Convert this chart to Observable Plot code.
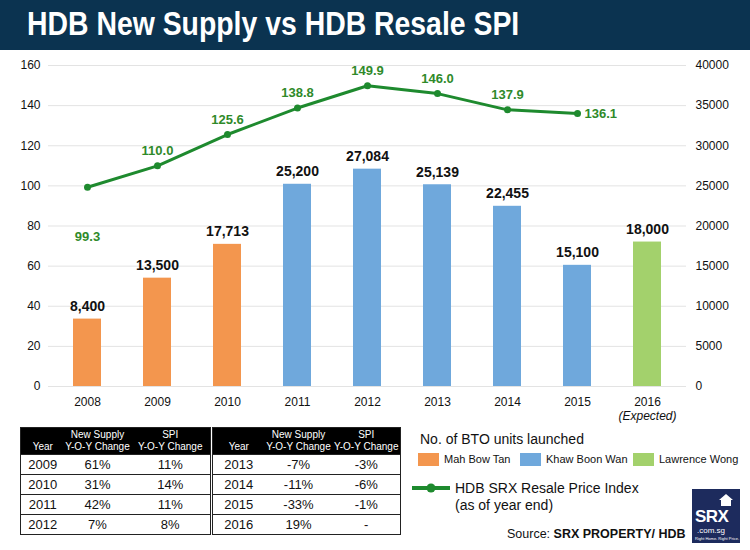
<!DOCTYPE html>
<html>
<head>
<meta charset="utf-8">
<script src="https://cdn.jsdelivr.net/npm/d3@7"></script>
<script src="https://cdn.jsdelivr.net/npm/@observablehq/plot@0.6"></script>
<style>
  html, body { margin: 0; padding: 0; background: #fff; }
  body { width: 750px; height: 550px; position: relative; overflow: hidden; font-family: "Liberation Sans", Arial, sans-serif; }
  #title { position: absolute; left: 0; top: 0; width: 750px; height: 50px; background: #0b3350; }
  #title span { position: absolute; left: 27px; top: 4px; color: #fff; font-family: "Liberation Sans", Arial, sans-serif; font-weight: bold; font-size: 34px; transform: scaleX(0.835); transform-origin: 0 0; white-space: nowrap; }
  #chart { position: absolute; left: 0; top: 50px; }
  table.t { position: absolute; border-collapse: collapse; table-layout: fixed; font-size: 13px; color: #111; border: 1px solid #222; }
  table.t th { background: #000; color: #fff; font-weight: normal; font-size: 10px; line-height: 12px; padding: 1px 0 1px 0; vertical-align: bottom; text-align: center; height: 24px; white-space: nowrap; overflow: visible; }
  table.t td { text-align: center; height: 19px; padding: 0; border-top: 1px solid #222; }
  #legend { position: absolute; left: 418px; top: 431px; font-size: 11px; color: #111; }
  .sw { position: absolute; width: 21px; height: 13px; }
  .lt { position: absolute; white-space: nowrap; }
  #logo { position: absolute; left: 692px; top: 489px; width: 48px; height: 54px; background: #1d2b5d; }
</style>
</head>
<body>
<div id="title"><span>HDB New Supply vs HDB Resale SPI</span></div>
<div id="chart"></div>
<div id="tables"></div>
<div id="legend"></div>
<div id="src" style="position:absolute;left:507px;top:527px;font-size:12.5px;color:#111;white-space:nowrap;">Source: <b>SRX PROPERTY/ HDB</b></div>
<div id="logo">
  <svg width="48" height="54" style="position:absolute;left:0;top:0" font-family="'Liberation Sans', Arial, sans-serif" fill="#fff">
    <polygon points="34,5 41,11 39,11 39,17 29,17 29,11 27,11" fill="#fff"/>
    <text x="3" y="33" font-size="17" font-weight="bold" letter-spacing="-0.5">SRX</text>
    <text x="5" y="44" font-size="8">.com.sg</text>
    <text x="3" y="51" font-size="4">Right Home. Right Price.</text>
  </svg>
</div>
<script>
// ---- data ----
const years = ["2008", "2009", "2010", "2011", "2012", "2013", "2014", "2015", "2016"];
const btoUnits = [8400, 13500, 17713, 25200, 27084, 25139, 22455, 15100, 18000];
const ministerOf = ["Mah Bow Tan", "Mah Bow Tan", "Mah Bow Tan", "Khaw Boon Wan", "Khaw Boon Wan", "Khaw Boon Wan", "Khaw Boon Wan", "Khaw Boon Wan", "Lawrence Wong"];
const ministers = ["Mah Bow Tan", "Khaw Boon Wan", "Lawrence Wong"];
const spiYears = ["2008", "2009", "2010", "2011", "2012", "2013", "2014", "2015"];
const spiValues = [99.3, 110.0, 125.6, 138.8, 149.9, 146.0, 137.9, 136.1];
const leftTicks = [0, 20, 40, 60, 80, 100, 120, 140, 160];
const rightTicks = [0, 5000, 10000, 15000, 20000, 25000, 30000, 35000, 40000];
const xNote = "(Expected)";
const xNoteYear = "2016";

const tableAYears = ["2009", "2010", "2011", "2012"];
const tableASupply = ["61%", "31%", "42%", "7%"];
const tableASpi = ["11%", "14%", "11%", "8%"];
const tableBYears = ["2013", "2014", "2015", "2016"];
const tableBSupply = ["-7%", "-11%", "-33%", "19%"];
const tableBSpi = ["-3%", "-6%", "-1%", "-"];
const headers = ["Year", "New Supply<br>Y-O-Y Change", "SPI<br>Y-O-Y Change"];

const legendTitle = "No. of BTO units launched";
const lineLegend = ["HDB SRX Resale Price Index", "(as of year end)"];

// ---- styles ----
const barColors = ["#f3964e", "#6fa8dc", "#a3d16c"];
const lineColor = "#1e8a2e";
const labelGreen = "#2f8a2a";
const ratio = 40000 / 160; // right axis units per left axis SPI point

const bars = years.map((y, i) => ({year: y, units: btoUnits[i], minister: ministerOf[i]}));
const spi = spiYears.map((y, i) => ({year: y, spi: spiValues[i]}));
const spiMid = spi.slice(1, -1);
const spiFirst = spi.slice(0, 1);
const spiLast = spi.slice(-1);

const chart = Plot.plot({
  width: 750,
  height: 376,
  marginTop: 15,
  marginBottom: 40,
  marginLeft: 48,
  marginRight: 64,
  style: {fontFamily: "'Liberation Sans', Arial, sans-serif", fontSize: "12px", color: "#111", background: "transparent"},
  x: {domain: years, paddingInner: 0.6, paddingOuter: 0.3, label: null},
  y: {domain: [0, 40000], label: null},
  color: {domain: ministers, range: barColors},
  marks: [
    Plot.gridY(rightTicks, {stroke: "#e3e3e3", strokeOpacity: 1}),
    Plot.axisY(rightTicks, {anchor: "left", tickSize: 0, tickPadding: 8, tickFormat: (d, i) => String(leftTicks[i]), label: null}),
    Plot.axisY(rightTicks, {anchor: "right", tickSize: 0, tickPadding: 9, tickFormat: d => String(d), label: null}),
    Plot.axisX({tickSize: 0, tickPadding: 9, lineHeight: 1.2, tickFormat: d => d === xNoteYear ? d + "\n" + xNote : d, label: null}),
    Plot.barY(bars, {x: "year", y: "units", fill: "minister"}),
    Plot.text(bars, {x: "year", y: "units", text: d => d3.format(",")(d.units), lineAnchor: "bottom", dy: -8, fontWeight: "bold", fontSize: 14, fill: "#111"}),
    Plot.line(spi, {x: "year", y: d => d.spi * ratio, stroke: lineColor, strokeWidth: 3}),
    Plot.dot(spi, {x: "year", y: d => d.spi * ratio, r: 3.5, fill: lineColor}),
    Plot.text(spiMid, {x: "year", y: d => d.spi * ratio, text: d => d.spi.toFixed(1), dy: -15, fontWeight: "bold", fontSize: 13, fill: labelGreen}),
    Plot.text(spiFirst, {x: "year", y: d => d.spi * ratio, text: d => d.spi.toFixed(1), dy: 50, fontWeight: "bold", fontSize: 13, fill: labelGreen}),
    Plot.text(spiLast, {x: "year", y: d => d.spi * ratio, text: d => d.spi.toFixed(1), dx: 7, textAnchor: "start", fontWeight: "bold", fontSize: 13, fill: labelGreen})
  ]
});
// italicise the "(Expected)" line of the 2016 tick label
d3.select(chart).selectAll("tspan").filter(function() { return this.textContent === xNote; }).attr("font-style", "italic");
document.getElementById("chart").appendChild(chart);

// ---- tables ----
function makeTable(left, widths, ys, sup, sp) {
  const t = document.createElement("table");
  t.className = "t";
  t.style.left = left + "px";
  t.style.top = "427px";
  t.style.width = widths.reduce((a, b) => a + b, 0) + "px";
  let html = "<colgroup>" + widths.map(w => `<col style="width:${w}px">`).join("") + "</colgroup>";
  html += "<tr>" + headers.map(h => `<th>${h}</th>`).join("") + "</tr>";
  ys.forEach((y, i) => { html += `<tr><td>${y}</td><td>${sup[i]}</td><td>${sp[i]}</td></tr>`; });
  t.innerHTML = html;
  document.getElementById("tables").appendChild(t);
}
makeTable(20, [44, 66, 80], tableAYears, tableASupply, tableASpi);
makeTable(212, [52, 68, 68], tableBYears, tableBSupply, tableBSpi);

// ---- legend ----
const lg = document.getElementById("legend");
let lh = `<div class="lt" style="left:2px;top:0px;font-size:14px;">${legendTitle}</div>`;
const swX = [0, 102, 215];
ministers.forEach((m, i) => {
  lh += `<div class="sw" style="left:${swX[i]}px;top:22px;background:${barColors[i]}"></div>`;
  lh += `<div class="lt" style="left:${swX[i] + 26}px;top:22px;">${m}</div>`;
});
lh += `<svg style="position:absolute;left:-6px;top:50px" width="40" height="14"><line x1="0" y1="7" x2="38" y2="7" stroke="${lineColor}" stroke-width="4"/><circle cx="19" cy="7" r="4.5" fill="${lineColor}"/></svg>`;
lh += `<div class="lt" style="left:37px;top:49px;font-size:14px;line-height:17px;">${lineLegend[0]}<br>${lineLegend[1]}</div>`;
lg.innerHTML = lh;
</script>
</body>
</html>
